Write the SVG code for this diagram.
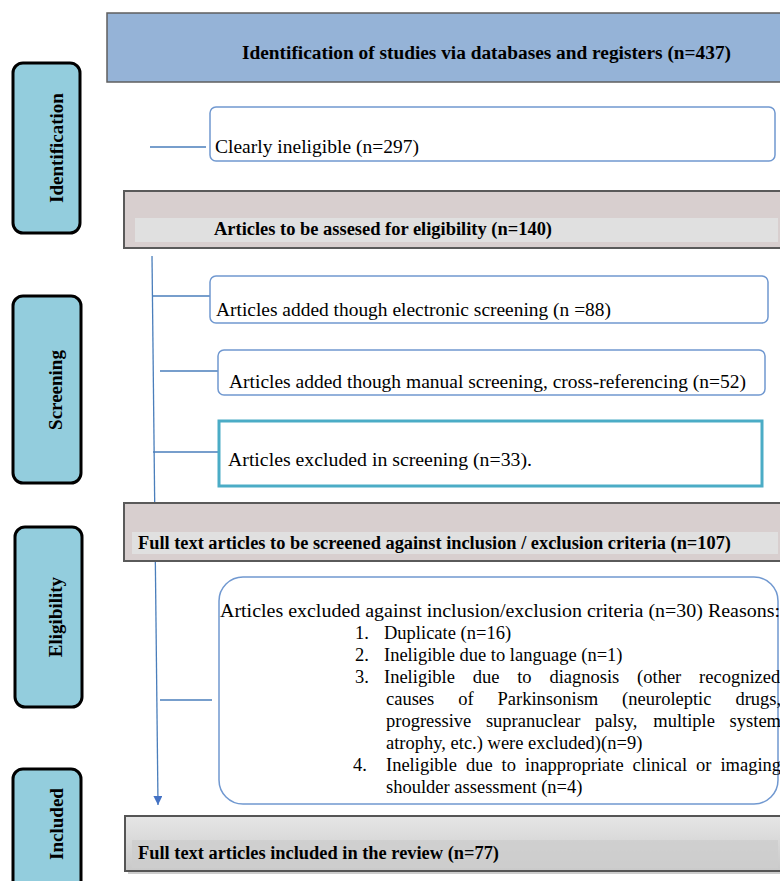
<svg xmlns="http://www.w3.org/2000/svg" width="780" height="881" viewBox="0 0 780 881">
<defs>
<style>
.side{fill:#93cddd;stroke:#000;stroke-width:3}
.sidetxt{font-family:'Liberation Serif','Times New Roman',serif;font-weight:bold;font-size:19px;text-anchor:middle;fill:#000}
.t{font-family:'Liberation Serif','Times New Roman',serif;font-size:18.5px;fill:#000}
.b{font-weight:bold}
.gray{fill:#d8cfcf;stroke:#5a5a5a;stroke-width:2}
.band{fill:#e0e0e0}
.rbox{fill:#fff;stroke:#7098d0;stroke-width:1.5}
.conn{stroke:#4a7ebb;stroke-width:1.3;fill:none}
</style>
<linearGradient id="incg" x1="0" y1="0" x2="0" y2="1">
<stop offset="0" stop-color="#e6e6e6"/>
<stop offset="1" stop-color="#c9c9c9"/>
</linearGradient>
<marker id="arr" viewBox="0 0 10 10" refX="10" refY="5" markerWidth="11" markerHeight="9" markerUnits="userSpaceOnUse" orient="auto">
<path d="M0,0 L10,5 L0,10 z" fill="#4472c4"/>
</marker>
</defs>
<rect width="780" height="881" fill="#fff"/>

<g id="stage-identification">
<rect class="side" x="13" y="63" width="67" height="170" rx="10"/>
<text class="sidetxt" transform="translate(63,148) rotate(-90)">Identification</text>
</g>
<g id="stage-screening">
<rect class="side" x="13" y="296" width="68" height="187" rx="10"/>
<text class="sidetxt" transform="translate(62,390) rotate(-90)">Screening</text>
</g>
<g id="stage-eligibility">
<rect class="side" x="15" y="527" width="67" height="180" rx="10"/>
<text class="sidetxt" transform="translate(62,617) rotate(-90)">Eligibility</text>
</g>
<g id="stage-included">
<rect class="side" x="13" y="769" width="68" height="125" rx="10"/>
<text class="sidetxt" transform="translate(63,824) rotate(-90)">Included</text>
</g>

<g id="connectors">
<path class="conn" d="M152,256 L158,805" marker-end="url(#arr)"/>
<path class="conn" d="M150,147 H206"/>
<path class="conn" d="M152,296 H210"/>
<path class="conn" d="M160,371 H218"/>
<path class="conn" d="M153,452 H219"/>
<path class="conn" d="M160,700 H212"/>
</g>

<g id="identified">
<rect x="107" y="13" width="680" height="69" fill="#95b3d7" stroke="#5f5f5f" stroke-width="1.5"/>
<text class="t b" x="242" y="59" textLength="489" lengthAdjust="spacingAndGlyphs">Identification of studies via databases and registers (n=437)</text>
</g>

<g id="ineligible">
<rect class="rbox" x="210" y="107" width="565" height="54" rx="6"/>
<text class="t" x="215" y="153" textLength="204" lengthAdjust="spacingAndGlyphs">Clearly ineligible (n=297)</text>
</g>

<g id="assess">
<rect class="gray" x="124" y="191" width="664" height="57"/>
<rect class="band" x="135" y="218" width="643" height="24"/>
<text class="t b" x="214" y="235" textLength="338" lengthAdjust="spacingAndGlyphs">Articles to be assesed for eligibility (n=140)</text>
</g>

<g id="electronic">
<rect class="rbox" x="210" y="276" width="558" height="47" rx="6"/>
<text class="t" x="216" y="316" textLength="395" lengthAdjust="spacingAndGlyphs">Articles added though electronic screening (n =88)</text>
</g>

<g id="manual">
<rect class="rbox" x="218" y="350" width="547" height="45" rx="6"/>
<text class="t" x="229" y="388" textLength="517" lengthAdjust="spacingAndGlyphs">Articles added though manual screening, cross-referencing (n=52)</text>
</g>

<g id="excluded-screening">
<rect x="219" y="421" width="543" height="65" fill="#fff" stroke="#4bacc6" stroke-width="3"/>
<text class="t" x="228" y="466" textLength="304" lengthAdjust="spacingAndGlyphs">Articles excluded in screening (n=33).</text>
</g>

<g id="fulltext">
<rect class="gray" x="124" y="503" width="664" height="58"/>
<rect class="band" x="132" y="532" width="646" height="22"/>
<text class="t b" x="138" y="549" textLength="593" lengthAdjust="spacingAndGlyphs">Full text articles to be screened against inclusion / exclusion criteria (n=107)</text>
</g>

<g id="excluded-criteria">
<rect class="rbox" x="219" y="577" width="559" height="227" rx="24"/>
<text class="t" x="220" y="617" textLength="560" lengthAdjust="spacingAndGlyphs">Articles excluded against inclusion/exclusion criteria (n=30) Reasons:</text>
<text class="t" x="355" y="639">1.</text>
<text class="t" x="384" y="639">Duplicate (n=16)</text>
<text class="t" x="355" y="661">2.</text>
<text class="t" x="384" y="661">Ineligible due to language (n=1)</text>
<text class="t" x="355" y="683">3.</text>
<text class="t" y="683"><tspan x="384">Ineligible</tspan><tspan x="472.7">due</tspan><tspan x="517.2">to</tspan><tspan x="549.4">diagnosis</tspan><tspan x="637.1">(other</tspan><tspan x="699.1">recognized</tspan></text>
<text class="t" y="705"><tspan x="386">causes</tspan><tspan x="458.2">of</tspan><tspan x="497.5">Parkinsonism</tspan><tspan x="622.1">(neuroleptic</tspan><tspan x="735.4">drugs,</tspan></text>
<text class="t" y="727"><tspan x="386">progressive</tspan><tspan x="485.9">supranuclear</tspan><tspan x="595">palsy,</tspan><tspan x="653.3">multiple</tspan><tspan x="729.6">system</tspan></text>
<text class="t" x="386" y="749">atrophy, etc.) were excluded)(n=9)</text>
<text class="t" x="353" y="771" font-size="22">4.</text>
<text class="t" y="771"><tspan x="386">Ineligible</tspan><tspan x="465.9">due</tspan><tspan x="501.6">to</tspan><tspan x="525">inappropriate</tspan><tspan x="632.6">clinical</tspan><tspan x="696">or</tspan><tspan x="720.4">imaging</tspan></text>
<text class="t" x="386" y="793">shoulder assessment (n=4)</text>
</g>

<g id="included">
<rect x="128" y="819" width="660" height="55" fill="#9a9a9a" opacity="0.5"/>
<rect x="125" y="816" width="663" height="55" fill="url(#incg)" stroke="#555" stroke-width="2"/>
<rect x="132" y="840" width="646" height="28" fill="#cdcdcd" opacity="0.8"/>
<text class="t b" x="138" y="859" textLength="361" lengthAdjust="spacingAndGlyphs">Full text articles included in the review (n=77)</text>
</g>
</svg>
